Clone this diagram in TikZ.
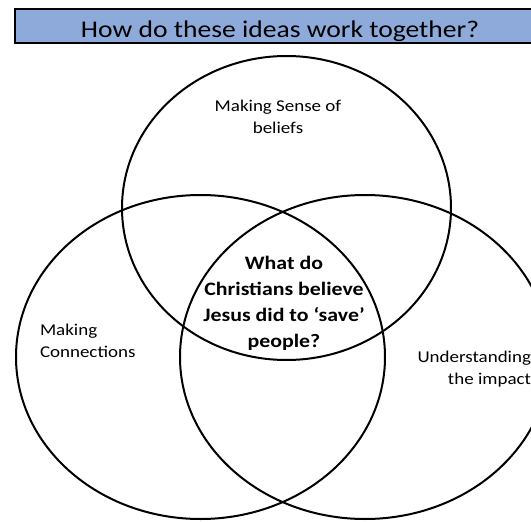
\documentclass[tikz,border=0pt]{standalone}
\usepackage{fontspec}
\setmainfont{Carlito}[FakeStretch=1.15]
\usetikzlibrary{shapes.geometric}
\definecolor{barblue}{HTML}{8EAADB}
\tikzset{
  vcirc/.style={draw=black, line width=2pt, ellipse, inner sep=0pt, outer sep=0pt},
  titlebar/.style={draw=black, line width=2pt, fill=barblue},
  lbl/.style={inner sep=0pt, outer sep=0pt, font=\fontsize{16.5}{22}\selectfont},
  centrelbl/.style={inner sep=0pt, outer sep=0pt, align=center, font=\fontsize{19}{26}\selectfont\bfseries}
}
\begin{document}
\begin{tikzpicture}[x=1pt,y=-1pt]
\useasboundingbox (0,0) rectangle (531,522);
\clip (0,0) rectangle (531,522);
% title bar
\path[titlebar] (15,9) rectangle (545,43);
\node[inner sep=0pt, anchor=base, font=\fontsize{24}{28}\selectfont] (title) at (280,37.3) {How do these ideas work together?};
% circles
\node[vcirc, minimum width=329pt, minimum height=304pt] (beliefs) at (286.5,208) {};
\node[vcirc, minimum width=369pt, minimum height=324pt] (connections) at (200.5,357) {};
\node[vcirc, minimum width=370pt, minimum height=324pt] (impact) at (365,357) {};
% labels (base anchor = baseline of last line)
\node[lbl, align=center, anchor=base] (tbl) at (278,133) {Making Sense of\\beliefs};
\node[lbl, align=left, anchor=base west] (lbl2) at (40,357) {Making\\Connections};
\node[lbl, align=right, anchor=base east] (rbl) at (531,384) {Understanding\\the impact};
\node[centrelbl, anchor=base] (centre) at (284,347) {What do\\Christians believe\\Jesus did to ‘save’\\people?};
\end{tikzpicture}
\end{document}
